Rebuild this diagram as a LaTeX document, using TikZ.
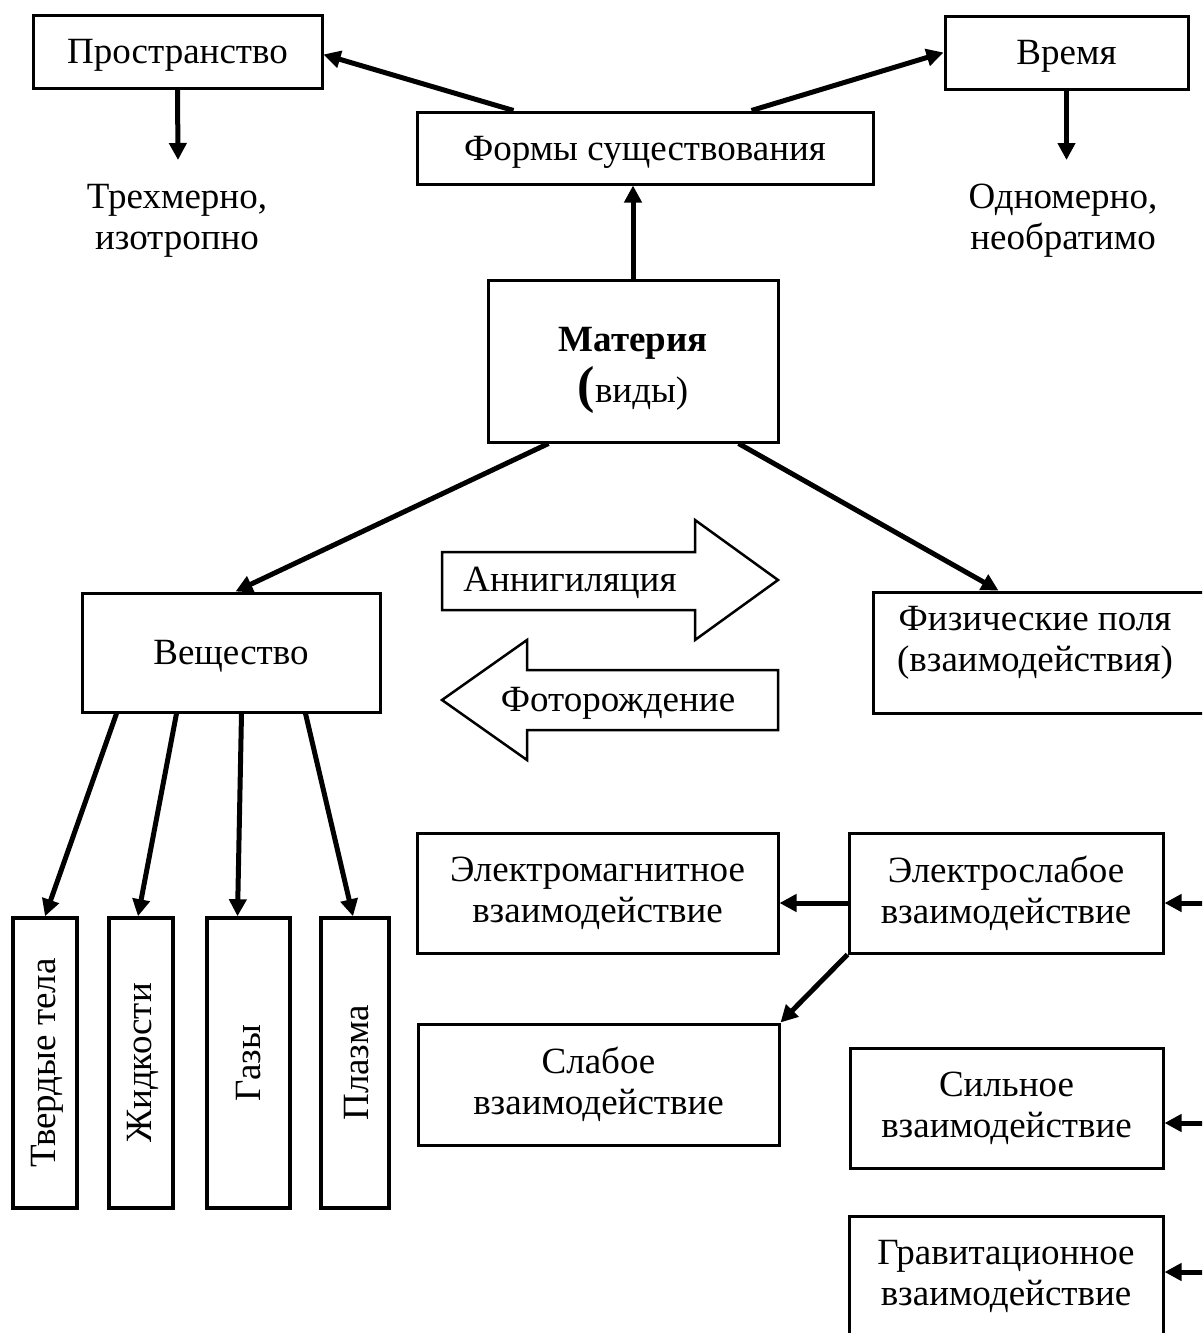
\documentclass[tikz,border=0pt]{standalone}
\usepackage{fontspec}
\setmainfont{Liberation Serif}
\usetikzlibrary{arrows.meta,calc}
\begin{document}
\begin{tikzpicture}[x=1pt,y=-1pt,
  every node/.style={font=\fontsize{37}{41}\selectfont},
  box/.style={draw, line width=3pt, inner sep=0pt, align=center},
  onebox/.style={box, text depth=0pt},
  vbox/.style={draw, line width=3.5pt, inner sep=0pt},
  arr/.style={line width=5pt, -{Triangle[length=17pt,width=17pt]}},
  blk/.style={draw, line width=2.5pt, line join=miter},
  lbl/.style={align=center, inner sep=0pt}]
\useasboundingbox (0,0) rectangle (1202,1333);
\clip (0,0) rectangle (1202,1333);

% boxes
\node[onebox, minimum width=289pt, minimum height=73pt] (prost) at (177.5,51.5) {Пространство};
\node[onebox, minimum width=243pt, minimum height=73pt] (vrem) at (1066.5,52.5) {Время};
\node[onebox, minimum width=456pt, minimum height=72pt] (form) at (645,148) {Формы существования};
\node[box, minimum width=290pt, minimum height=162pt] (mat) at (633,361)
  {\rule{0pt}{40pt}\textbf{Материя}\\[10pt]\smash{\fontsize{52}{52}\selectfont\textbf{(}}виды)};
\node[onebox, minimum width=298pt, minimum height=119pt] (vesch) at (231,652.5) {Вещество};
\node[box, minimum width=342pt, minimum height=121pt] (fiz) at (1044,652.5) {};
\node[lbl] (fiztxt) at (1035,643) {Физические поля\\(взаимодействия)};
\node[box, minimum width=361pt, minimum height=120pt] (em) at (597.5,893) {Электромагнитное\\взаимодействие};
\node[box, minimum width=314pt, minimum height=120pt] (ew) at (1006,893) {Электрослабое\\взаимодействие};
\node[box, minimum width=361pt, minimum height=121pt] (weak) at (598.5,1084.5) {Слабое\\взаимодействие};
\node[box, minimum width=313pt, minimum height=120pt] (strong) at (1006.5,1108) {Сильное\\взаимодействие};
\node[box, minimum width=314pt, minimum height=120pt] (grav) at (1006,1276) {Гравитационное\\взаимодействие};

\node[vbox, minimum width=64pt, minimum height=290pt] (v1) at (45,1063) {\hspace{4pt}\rotatebox{90}{Твердые тела}};
\node[vbox, minimum width=64pt, minimum height=290pt] (v2) at (141,1063) {\hspace{3pt}\rotatebox{90}{Жидкости}};
\node[vbox, minimum width=83pt, minimum height=290pt] (v3) at (248.5,1063) {\rotatebox{90}{Газы}};
\node[vbox, minimum width=68pt, minimum height=290pt] (v4) at (355,1063) {\hspace{3pt}\rotatebox{90}{Плазма}};

% texts
\node[lbl] (trekh) at (177,221) {Трехмерно,\\изотропно};
\node[lbl] (odno) at (1063,221) {Одномерно,\\необратимо};

% block arrows
\draw[blk] (442,552) -- (695,552) -- (695,520) -- (778,580) -- (695,640) -- (695,610) -- (442,610) -- cycle;
\node[lbl] (ann) at (570,583) {Аннигиляция};
\draw[blk] (778,670) -- (527,670) -- (527,640) -- (442,700) -- (527,760) -- (527,730) -- (778,730) -- cycle;
\node[lbl] (foto) at (618,703) {Фоторождение};

% connectors
\coordinate (pe1) at (178,160);
\coordinate (pe2) at (1066.5,160);
\draw[arr] (prost.south) -- (pe1);
\draw[arr] (vrem.south) -- (pe2);
\draw[arr] ($(form.north west)+(98,0)$) -- ($(prost.east)+(0,3)$);
\draw[arr] ($(form.north west)+(336,0)$) -- (vrem.west);
\draw[arr] (mat.north) -- (mat.north |- form.south);
\draw[arr] ($(mat.south west)+(62,0)$) -- ($(vesch.north west)+(155,0)$);
\draw[arr] ($(mat.south west)+(252,0)$) -- ($(fiz.north west)+(127,0)$);

\draw[arr] ($(vesch.south west)+(36,0)$) -- (v1.north);
\draw[arr] ($(vesch.south west)+(96,0)$) -- ($(v2.north)+(-3,0)$);
\draw[arr] ($(vesch.south west)+(161,0)$) -- ($(v3.north)+(-11,0)$);
\draw[arr] ($(vesch.south west)+(225,0)$) -- ($(v4.north)+(-2,0)$);

\draw[arr] ($(ew.west)+(0,10)$) -- ($(em.east)+(0,10)$);
\draw[arr] (ew.south west) -- (weak.north east);
\coordinate (r1) at (1215,903);
\coordinate (r2) at (1215,1123);
\coordinate (r3) at (1215,1272);
\draw[arr] (r1) -- (r1 -| ew.east);
\draw[arr] (r2) -- (r2 -| strong.east);
\draw[arr] (r3) -- (r3 -| grav.east);
\end{tikzpicture}
\end{document}
